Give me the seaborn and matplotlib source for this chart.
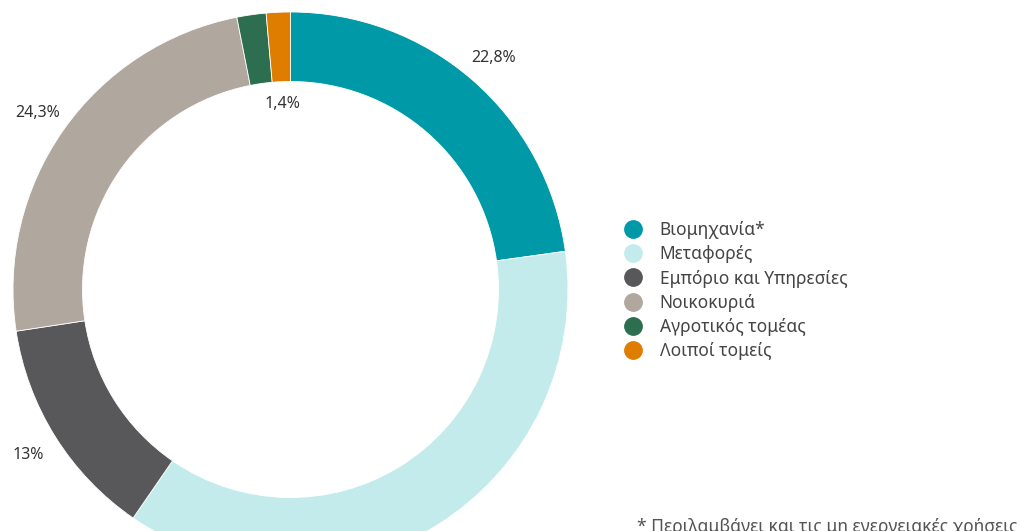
import numpy as np
import matplotlib
matplotlib.use("Agg")
import matplotlib.pyplot as plt
from matplotlib.lines import Line2D
import seaborn as sns

# shares of final energy consumption by sector (%)
sectors = ["Βιομηχανία*", "Μεταφορές", "Εμπόριο και Υπηρεσίες", "Νοικοκυριά",
           "Αγροτικός τομέας", "Λοιποί τομείς"]
shares = [22.8, 36.8, 13.0, 24.3, 1.7, 1.4]
share_labels = ["22,8%", "36,8%", "13%", "24,3%", "1,7%", "1,4%"]
colors = ["#0099A8", "#C4EBEB", "#58585A", "#B0A79E", "#2E6E50", "#DE7D00"]
footnote = "* Περιλαμβάνει και τις μη ενεργειακές χρήσεις"

sns.set_theme(style="white")
plt.rcParams['font.family'] = ['Noto Sans', 'DejaVu Sans']

W, H = 1033, 531
fig = plt.figure(figsize=(W / 100, H / 100), dpi=100)
ax = fig.add_axes([0, 0, 1, 1])

# donut in pixel coordinates (y upward)
cx, cy = 290.5, H - 289.5
r_out, ring = 277.5, 69.5
wedges, _ = ax.pie(shares, colors=colors, startangle=90, counterclock=False,
                   radius=r_out, center=(cx, cy),
                   wedgeprops=dict(width=ring, edgecolor="white", linewidth=0.6))

# percentage labels: outside the ring, except the last small slice inside
for i, w in enumerate(wedges):
    mid = np.deg2rad((w.theta1 + w.theta2) / 2)
    r = 187 if i == len(wedges) - 1 else 309
    ax.text(cx + r * np.cos(mid), cy + r * np.sin(mid) - 1.5, share_labels[i],
            ha="center", va="center", fontsize=11.5, color="#333333")

ax.set_xlim(0, W)
ax.set_ylim(0, H)
ax.set_aspect("equal")
ax.axis("off")

handles = [Line2D([], [], marker="o", linestyle="", markersize=12.5,
                  markerfacecolor=c, markeredgecolor=c) for c in colors]
fig.legend(handles, sectors, loc="upper left", bbox_to_anchor=(624 / W, 1 - 221 / H),
           frameon=False, fontsize=12.5, labelcolor="#444444", handletextpad=1.05,
           labelspacing=0.36, handlelength=1.0, borderpad=0, borderaxespad=0)

fig.text(637 / W, 1 - 518 / H, footnote, ha="left", va="top",
         fontsize=12.6, color="#555555")

fig.savefig("out.png", dpi=100)
